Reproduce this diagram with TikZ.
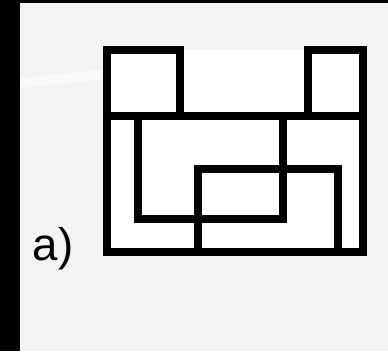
\documentclass[tikz,border=0pt]{standalone}
\usepackage{fontspec}
\setmainfont{Liberation Sans}
\usepackage{tikz}
\usetikzlibrary{positioning}

\definecolor{paper}{HTML}{F3F3F3}
\tikzset{wall/.style={line width=0.08cm, line join=miter, black}}

\begin{document}
\begin{tikzpicture}[x=0.01cm, y=-0.01cm]

% Page and dark frame
\fill[paper] (0, 0) rectangle (388, 351);
\useasboundingbox (0, 0) rectangle (388, 351);
\fill[black] (0, 0) rectangle (20, 351);
\fill[black] (0, 0) rectangle (388, 3);

% Faint watermark bands
\fill[white, opacity=0.5] (20, 78) -- (180, 62) -- (180, 72) -- (20, 88) -- cycle;
\fill[white] (107, 50) rectangle (363, 252);

% Outline and top boxes
\draw[wall] (107, 116) rectangle (363, 252);
\draw[wall] (107, 50) rectangle (180, 116);
\draw[wall] (308, 50) rectangle (363, 116);

% Inner boxes
\draw[wall] (138, 116) rectangle (283, 219);
\draw[wall] (198, 169) rectangle (338, 252);

% Label
\node[font=\fontsize{13pt}{15pt}\selectfont, anchor=base west, inner sep=0pt] (lbl) at (32, 260) {a)};

\end{tikzpicture}
\end{document}
